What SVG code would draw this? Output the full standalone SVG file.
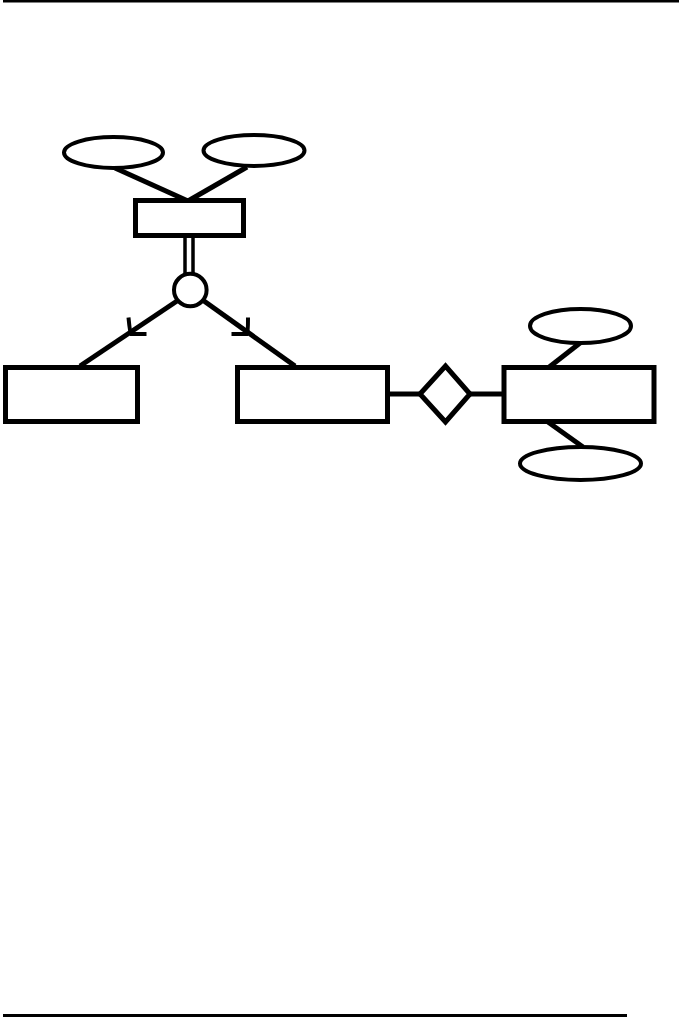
<svg xmlns="http://www.w3.org/2000/svg" width="679" height="1018" viewBox="0 0 679 1018">
<style>
.n{fill:#fff;stroke:#000;stroke-width:5}
.e{fill:#fff;stroke:#000;stroke-width:4}
.c{fill:none;stroke:#000;stroke-width:5}
.t{fill:none;stroke:#000;stroke-width:3.5}
.h{fill:none;stroke:#000;stroke-width:4;stroke-linejoin:miter}
</style>
<rect width="679" height="1018" fill="#fff"/>
<line x1="3" y1="1.2" x2="679" y2="1.2" stroke="#000" stroke-width="2.6"/>
<line x1="3" y1="1015.5" x2="627" y2="1015.5" stroke="#000" stroke-width="3"/>
<g id="connectors">
<line class="c" x1="115" y1="168" x2="188" y2="201"/>
<line class="c" x1="247" y1="167" x2="188" y2="201"/>
<line class="t" x1="185" y1="237" x2="185" y2="274"/>
<line class="t" x1="193" y1="237" x2="193" y2="274"/>
<line class="c" x1="177" y1="301" x2="80" y2="366"/>
<line class="c" x1="204" y1="301" x2="295" y2="366"/>
<path class="h" d="M128.5,317.5 Q130,333 131,334 L146.5,334"/>
<path class="h" d="M248,317.5 Q248,333 247,334 L231.5,334"/>
<line class="c" x1="390" y1="394" x2="420" y2="394"/>
<line class="c" x1="470" y1="394" x2="504" y2="394"/>
<line class="c" x1="580" y1="343" x2="548" y2="368"/>
<line class="c" x1="548" y1="422" x2="583" y2="447"/>
</g>
<g id="attr1"><ellipse class="e" cx="113.5" cy="152.5" rx="49.5" ry="15.5"/></g>
<g id="attr2"><ellipse class="e" cx="254" cy="150.5" rx="50.5" ry="15.5"/></g>
<g id="superEntity"><rect class="n" x="135.5" y="200.5" width="108" height="35"/></g>
<g id="specCircle"><circle class="e" cx="190.3" cy="290" r="16.3"/></g>
<g id="subEntity1"><rect class="n" x="5.5" y="367.5" width="132" height="54"/></g>
<g id="subEntity2"><rect class="n" x="237.5" y="367.5" width="150" height="54"/></g>
<g id="relationship"><polygon class="n" points="420,394 445.5,366 470,394 445.5,422"/></g>
<g id="entity3"><rect class="n" x="504" y="367.5" width="150" height="54"/></g>
<g id="attr3"><ellipse class="e" cx="580.5" cy="326" rx="50.5" ry="17"/></g>
<g id="attr4"><ellipse class="e" cx="580.5" cy="463.5" rx="60.5" ry="16.5"/></g>
</svg>
